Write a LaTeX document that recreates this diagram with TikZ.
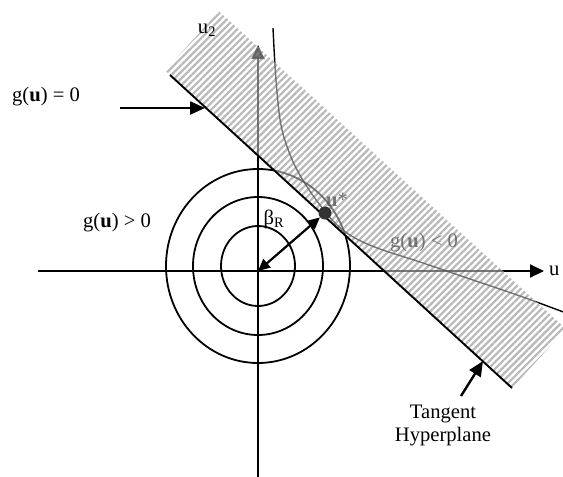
\documentclass[tikz,border=0pt]{standalone}
\usepackage{fontspec}
\setmainfont{Liberation Serif}
\usetikzlibrary{arrows.meta,patterns.meta}
\newcommand{\myunder}{%
  \draw[axisline] (xs) -- (xe);
  \draw[axisline] (ys) -- (ye);
  \draw[ring] (C) ellipse [x radius=37pt, y radius=40pt];
  \draw[ring] (C) ellipse [x radius=65pt, y radius=69pt];
  \draw[ring] (C) ellipse [x radius=92pt, y radius=97pt];
  \draw[line width=1.4pt] plot[smooth, tension=0.6] coordinates {(273,28) (276,80) (281,125) (291,157) (304,182) (320,205) (337,225) (355,238) (380,249) (420,262) (470,279) (520,296) (566,313)};
  \node[lbl] at (337,200) {\textbf{u}*};
  \node[lbl] at (424,243) {g(\textbf{u}) {\textless} 0};
}
\begin{document}
\begin{tikzpicture}[x=1pt,y=-1pt,
  lbl/.style={font=\fontsize{20.6}{23}\selectfont, inner sep=0pt},
  axisline/.style={line width=2.1pt, -{Triangle[length=14pt,width=13pt]}},
  ring/.style={line width=1.8pt},
  ptr/.style={line width=2.4pt, -{Triangle[length=15pt,width=13pt]}},
  radius/.style={line width=2.2pt, {Triangle[length=12pt,width=11pt]}-{Triangle[length=12pt,width=11pt]}},
  bandfill/.style={pattern={Lines[angle=45,distance=4.8pt,line width=2.2pt]}, pattern color=gray!55},
  dot/.style={circle, fill=black!80, minimum size=13pt, inner sep=0pt},
]
\useasboundingbox (0,0) rectangle (563,477);
% coordinates
\coordinate (O) at (258,271);
\coordinate (C) at (258,266);
\coordinate (xs) at (38,271);
\coordinate (xe) at (544,271);
\coordinate (ys) at (258,477);
\coordinate (ye) at (258,45);
\coordinate (b1) at (165,70.4);
\coordinate (b2) at (219,11.4);
\coordinate (b3) at (566,329);
\coordinate (b4) at (512,388);
% axes, circles, curve (black)
\myunder
% hatched band (failure region)
\fill[white] (b1) -- (b2) -- (b3) -- (b4) -- cycle;
\fill[bandfill] (b1) -- (b2) -- (b3) -- (b4) -- cycle;
% objects seen through the band
\begin{scope}
  \clip (b1) -- (b2) -- (b3) -- (b4) -- cycle;
  \begin{scope}[color=gray!70!black, opacity=0.8]
    \myunder
  \end{scope}
\end{scope}
% tangent hyperplane
\coordinate (t1) at (170,75);
\coordinate (t2) at (512,388);
\draw[line width=1.9pt] (t1) -- (t2);
% design point
\node[dot] (us) at (325,213) {};
% beta arrow
\draw[radius] (O) -- (us);
\node[lbl] (beta) at (274,219) {β\textsubscript{R}};
% labels
\node[lbl] (u1) at (549,271) [anchor=west] {u};
\node[lbl] (u2) at (207,30) {u\textsubscript{2}};
\node[lbl] (gpos) at (117,223) {g(\textbf{u}) {\textgreater} 0};
\node[lbl] (gzero) at (46,97) {g(\textbf{u}) = 0};
\coordinate (p0s) at (120,108);
\coordinate (p0e) at (205,108);
\draw[ptr] (p0s) -- (p0e);
\node[lbl, align=center] (tang) at (443,425) {Tangent\\Hyperplane};
\coordinate (p1s) at (461,396);
\coordinate (p1e) at (483,361);
\draw[ptr] (p1s) -- (p1e);
\end{tikzpicture}
\end{document}
